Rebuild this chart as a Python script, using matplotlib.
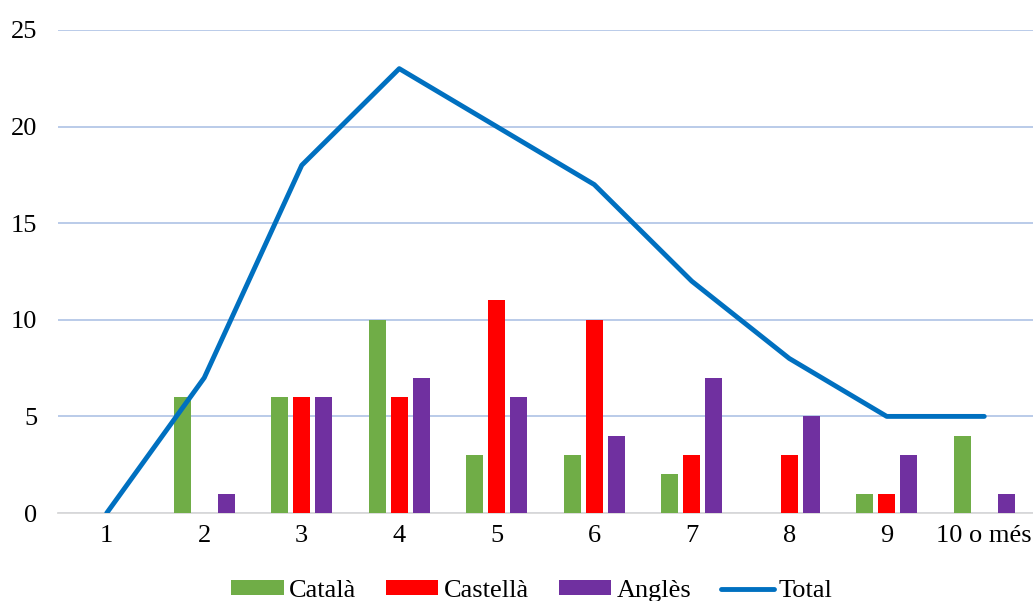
import matplotlib
matplotlib.use("Agg")
import matplotlib.pyplot as plt
import numpy as np

categories = ["1", "2", "3", "4", "5", "6", "7", "8", "9", "10 o més"]
catala = [0, 6, 6, 10, 3, 3, 2, 0, 1, 4]
castella = [0, 0, 6, 6, 11, 10, 3, 3, 1, 0]
angles = [0, 1, 6, 7, 6, 4, 7, 5, 3, 1]
total = [0, 7, 18, 23, 20, 17, 12, 8, 5, 5]

plt.rcParams['font.family'] = ['Liberation Serif', 'DejaVu Serif']
FS = 19

fig = plt.figure(figsize=(10.33, 6.01), dpi=100)
ax = fig.add_axes([58/1033, 1-513/601, 1-58/1033, 483/601])

x = np.arange(len(categories))
w = 0.175
off = 0.225
b1 = ax.bar(x - off, catala, w, color='#70ad47', label='Català', zorder=3)
b2 = ax.bar(x, castella, w, color='#ff0000', label='Castellà', zorder=3)
b3 = ax.bar(x + off, angles, w, color='#7030a0', label='Anglès', zorder=3)
l1, = ax.plot(x, total, color='#0070c0', lw=3.5, label='Total', zorder=4, solid_capstyle='round')

ax.set_xlim(-0.5, len(categories) - 0.5)
ax.set_ylim(0, 25)
ax.set_yticks([0, 5, 10, 15, 20, 25])
ax.set_xticks(x)
ax.set_xticklabels(categories)
ax.tick_params(axis='both', length=0, labelsize=FS, colors='black')
ax.tick_params(axis='y', pad=15)
ax.tick_params(axis='x', pad=9)
ax.yaxis.grid(True, color='#b4c7e7', lw=1.3, zorder=0)
for s in ['top', 'right', 'left']:
    ax.spines[s].set_visible(False)
ax.spines['bottom'].set_color('#d9d9d9')
ax.spines['bottom'].set_linewidth(1.3)
ax.spines['bottom'].set_zorder(2)

fig.legend(handles=[b1, b2, b3, l1], labels=['Català', 'Castellà', 'Anglès', 'Total'],
           loc='center', bbox_to_anchor=(532/1033, 1-591/601), ncol=4, frameon=False,
           fontsize=FS, handlelength=1.98, handleheight=0.5, handletextpad=0.2,
           columnspacing=1.14, borderpad=0)

fig.savefig('out.png', dpi=100)
